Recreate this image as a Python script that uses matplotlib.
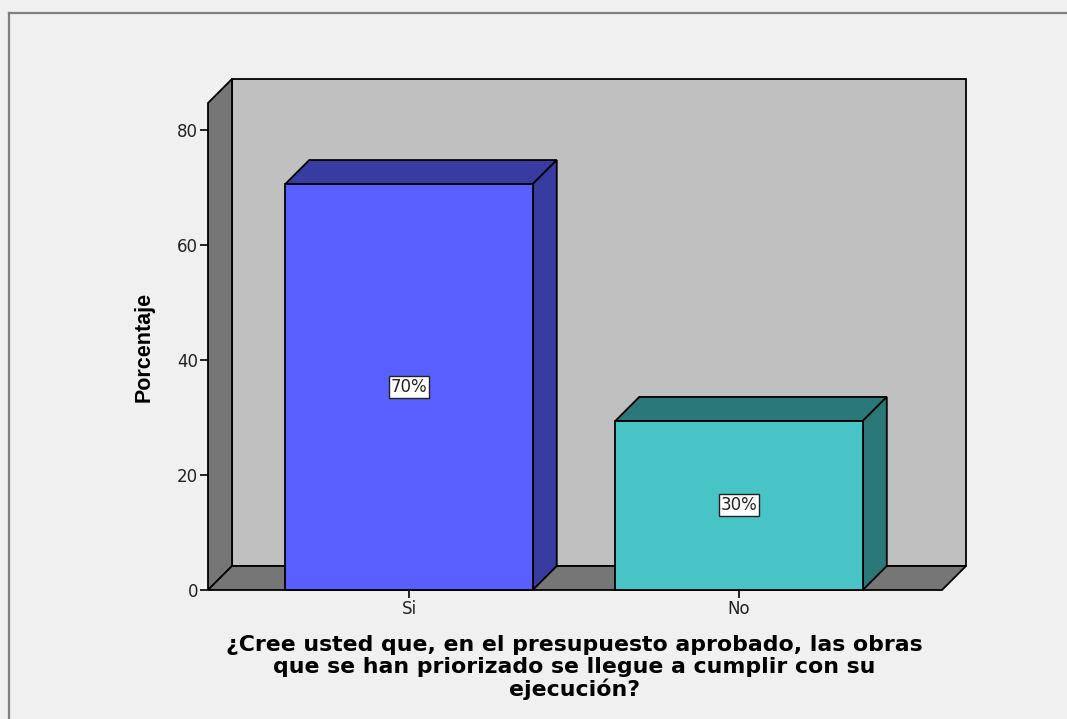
import matplotlib
matplotlib.use("Agg")
import matplotlib.pyplot as plt
from matplotlib.patches import Polygon, Rectangle
from matplotlib.lines import Line2D

categories = ["Si", "No"]
values = [70.6, 29.4]
labels = ["70%", "30%"]
yticks = [0, 20, 40, 60, 80]

front_colors = ["#5a5fff", "#48c3c6"]
dark_colors = ["#383ba0", "#2b7878"]

W, H = 1067, 719
fig = plt.figure(figsize=(W / 100, H / 100), dpi=100, facecolor="#f0f0f0")

# axes box in pixels: front-left x=208, back-right x=966, y0 at 590, top at 79
left, right, bot, top = 208, 966, 590, 79
ax = fig.add_axes([left / W, (H - bot) / H, (right - left) / W, (bot - top) / H])
ax.set_facecolor("none")

x0, x1 = -0.609, 1.615
xpx = 330.0               # px per category unit
ypx = 5.75                # px per percent
dx = 24 / xpx
dy = 24 / ypx
ytop = (bot - top) / ypx
ax.set_xlim(x0, x1 + dx)
ax.set_ylim(0, ytop)

wall = "#767676"
ec = "black"
lw = 1.3
# back wall
ax.add_patch(Rectangle((x0 + dx, dy), x1 - x0, ytop - dy, fc="#c0c0c0", ec=ec, lw=lw, clip_on=False))
# left wall
ax.add_patch(Polygon([(x0, 0), (x0, ytop - dy), (x0 + dx, ytop), (x0 + dx, dy)],
                     closed=True, fc=wall, ec=ec, lw=lw, clip_on=False))
# floor
ax.add_patch(Polygon([(x0, 0), (x1, 0), (x1 + dx, dy), (x0 + dx, dy)],
                     closed=True, fc=wall, ec=ec, lw=lw, clip_on=False))

bw = 0.75
for i, (v, lab) in enumerate(zip(values, labels)):
    a, b = i - bw / 2, i + bw / 2
    ax.add_patch(Polygon([(a, v), (b, v), (b + dx, v + dy), (a + dx, v + dy)],
                         closed=True, fc=dark_colors[i], ec=ec, lw=lw, clip_on=False))
    ax.add_patch(Polygon([(b, 0), (b, v), (b + dx, v + dy), (b + dx, dy)],
                         closed=True, fc=dark_colors[i], ec=ec, lw=lw, clip_on=False))
    ax.add_patch(Rectangle((a, 0), bw, v, fc=front_colors[i], ec=ec, lw=lw, clip_on=False))
    ax.text(i, v / 2, lab, ha="center", va="center", fontsize=12, family="DejaVu Sans",
            color="#222222",
            bbox=dict(boxstyle="square,pad=0.12", fc="white", ec="#222222", lw=1))

for s in ax.spines.values():
    s.set_visible(False)
ax.set_yticks(yticks)
ax.set_xticks(range(len(categories)))
ax.set_xticklabels(categories)
ax.tick_params(axis="both", direction="out", length=6, width=1.2, color="black",
               labelsize=12, pad=1)
for t in ax.get_xticklabels() + ax.get_yticklabels():
    t.set_family("DejaVu Sans")
    t.set_color("#222222")

ax.set_ylabel("Porcentaje", fontsize=15.5, fontweight="bold", family="Liberation Sans")
ax.yaxis.set_label_coords((155 - left) / (right - left), (bot - 347) / (bot - top))
fig.text(574 / W, 1 - 635 / H,
         "¿Cree usted que, en el presupuesto aprobado, las obras\n"
         "que se han priorizado se llegue a cumplir con su\n"
         "ejecución?",
         ha="center", va="top", fontsize=15.8, fontweight="bold", family="DejaVu Sans",
         linespacing=1.1)

# outer frame
fig.add_artist(Line2D([8.5 / W, 8.5 / W], [0, 1 - 13 / H], transform=fig.transFigure,
                      color="#7f7f7f", lw=1.6))
fig.add_artist(Line2D([8.5 / W, 1], [1 - 13 / H, 1 - 13 / H], transform=fig.transFigure,
                      color="#7f7f7f", lw=1.6))

fig.savefig("out.png", dpi=100, facecolor=fig.get_facecolor())
